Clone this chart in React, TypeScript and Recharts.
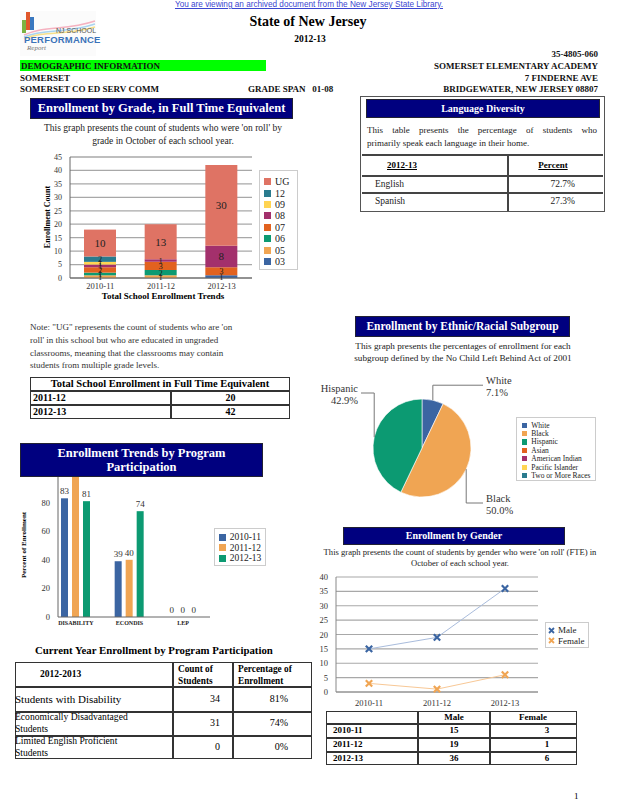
import React from 'react';
import {
  BarChart, Bar, XAxis, YAxis, CartesianGrid, LabelList, Legend,
  PieChart, Pie, Cell, LineChart, Line,
} from 'recharts';

const SERIF = '"Liberation Serif", "Times New Roman", serif';
const SANS = '"Liberation Sans", Arial, sans-serif';
const NAVY = '#00007f';

// ---------- Enrollment by grade ----------
const years = ['2010-11', '2011-12', '2012-13'];
const grade03 = [0, 0, 1];
const grade05 = [1, 1, 0];
const grade06 = [1, 2, 0];
const grade07 = [2, 3, 3];
const grade08 = [1, 1, 8];
const grade09 = [1, 0, 0];
const grade12 = [2, 0, 0];
const gradeUG = [10, 13, 30];
const gradeTicks = [0, 5, 10, 15, 20, 25, 30, 35, 40, 45];

// ---------- Program participation ----------
const programs = ['DISABILITY', 'ECONDIS', 'LEP'];
const prog2010 = [83, 39, 0];
const prog2011 = [100, 40, 0];
const prog2012 = [81, 74, 0];
const progTicks = [0, 20, 40, 60, 80, 100];

// ---------- Ethnic ----------
const ethnicNames = ['White', 'Black', 'Hispanic', 'Asian', 'American Indian', 'Pacific Islander', 'Two or More Races'];
const ethnicValues = [7.1, 50.0, 42.9, 0, 0, 0, 0];

// ---------- Gender ----------
const maleCounts = [15, 19, 36];
const femaleCounts = [3, 1, 6];
const genderTicks = [0, 5, 10, 15, 20, 25, 30, 35, 40];

// ---------- Tables ----------
const languages = ['English', 'Spanish'];
const languagePct = ['72.7%', '27.3%'];
const totalYears = ['2011-12', '2012-13'];
const totalCounts = [20, 42];
const programLong = [['Students with Disability'], ['Economically Disadvantaged', 'Students'], ['Limited English Proficient', 'Students']];
const programCounts = [34, 31, 0];
const programPct = ['81%', '74%', '0%'];

const C = {
  c03: '#3b65a2', c05: '#f0a553', c06: '#0c9a72', c07: '#e2621f',
  c08: '#a3306c', c09: '#ffd452', c12: '#2a7b8e', cUG: '#df7364',
};

const gradeSeries = [
  { key: 'g03', name: '03', color: C.c03, vals: grade03 },
  { key: 'g05', name: '05', color: C.c05, vals: grade05 },
  { key: 'g06', name: '06', color: C.c06, vals: grade06 },
  { key: 'g07', name: '07', color: C.c07, vals: grade07 },
  { key: 'g08', name: '08', color: C.c08, vals: grade08 },
  { key: 'g09', name: '09', color: C.c09, vals: grade09 },
  { key: 'g12', name: '12', color: C.c12, vals: grade12 },
  { key: 'gUG', name: 'UG', color: C.cUG, vals: gradeUG },
];
const gradeData = years.map((y, i) => {
  const r: any = { year: y };
  gradeSeries.forEach((s) => { r[s.key] = s.vals[i]; });
  return r;
});

const progColors = ['#3b65a2', '#f0a553', '#0c9a72'];
const progYears = ['2010-11', '2011-12', '2012-13'];
const progData = programs.map((p, i) => ({ prog: p, a: prog2010[i], b: prog2011[i], c: prog2012[i] }));

const ethnicColors = ['#3b65a2', '#f0a553', '#0c9a72', '#e2621f', '#a3306c', '#ffd452', '#2a7b8e'];
const ethnicData = ethnicNames.map((n, i) => ({ name: n, value: ethnicValues[i] }));

const genderData = years.map((y, i) => ({ year: y, male: maleCounts[i], female: femaleCounts[i] }));

const A = ({ x, y, w, h, style, children }: any) => (
  <div style={{ position: 'absolute', left: x, top: y, width: w, height: h, ...style }}>{children}</div>
);

const VText = ({ cx, cy, children, style }: any) => (
  <div style={{ position: 'absolute', left: cx, top: cy, transform: 'translate(-50%,-50%) rotate(-90deg)', whiteSpace: 'nowrap', fontFamily: SERIF, fontWeight: 'bold', ...style }}>{children}</div>
);

const Banner = ({ x, y, w, h, size, children }: any) => (
  <A x={x} y={y} w={w} h={h} style={{ background: NAVY, color: '#fff', fontFamily: SERIF, fontWeight: 'bold', fontSize: size, display: 'flex', alignItems: 'center', justifyContent: 'center', textAlign: 'center', lineHeight: 1.15, zIndex: 5, boxSizing: 'border-box', border: '1px solid #223' }}>
    {children}
  </A>
);

const stackLabel = (props: any) => {
  const { x, y, width, height, value } = props;
  if (!value) return null;
  const big = height >= 14;
  return (
    <text x={x + width / 2} y={y + height / 2} textAnchor="middle" dominantBaseline="central" fontFamily={SERIF} fontSize={big ? 11 : 8.5} fill="#222">{value}</text>
  );
};

const topLabel = (props: any) => {
  const { x, y, width, value } = props;
  if (value == null) return null;
  return (
    <text x={x + width / 2} y={y - 4} textAnchor="middle" fontFamily={SERIF} fontSize={9} fill="#333">{value}</text>
  );
};

const BoxLegend = ({ items, size, gap, marker, style }: any) => (
  <div style={{ border: '1px solid #ccc', background: '#fff', boxSizing: 'border-box', padding: '3px 4px', fontFamily: SERIF, fontSize: size, color: '#222', ...style }}>
    {items.map((it: any) => (
      <div key={it.name} style={{ display: 'flex', alignItems: 'center', height: gap, whiteSpace: 'nowrap' }}>
        {marker === 'x' ? (
          <svg width={7} height={7} style={{ marginRight: 3, flexShrink: 0 }}><path d="M1,1L6,6M1,6L6,1" stroke={it.color} strokeWidth={1.8} /></svg>
        ) : (
          <span style={{ display: 'inline-block', flexShrink: 0, width: size * 0.7, height: size * 0.7, background: it.color, marginRight: 4 }} />
        )}
        {it.name}
      </div>
    ))}
  </div>
);

const pieLabel = (props: any) => {
  const { cx, cy, midAngle, outerRadius, name, value } = props;
  if (!value) return null;
  const rad = Math.PI / 180;
  const s = Math.sin(midAngle * rad);
  const c = Math.cos(midAngle * rad);
  const ex = cx + outerRadius * c;
  const ey = cy - outerRadius * s;
  const ely = s > 0 ? Math.min(cy - outerRadius - 6, ey - 15) : Math.max(cy + outerRadius + 6, ey + 15);
  const right = c >= 0;
  const hx = right ? cx + outerRadius + 12 : cx - outerRadius - 12;
  const tx = right ? hx + 3 : hx - 3;
  return (
    <g key={name}>
      <polyline points={`${ex},${ey} ${ex},${ely} ${hx},${ely}`} fill="none" stroke="#777" strokeWidth={1} />
      <text x={tx} y={ely - 5} textAnchor={right ? 'start' : 'end'} dominantBaseline="central" fontFamily={SERIF} fontSize={10.5} fill="#333">{name}</text>
      <text x={tx} y={ely + 7} textAnchor={right ? 'start' : 'end'} dominantBaseline="central" fontFamily={SERIF} fontSize={10.5} fill="#333">{value.toFixed(1)}%</text>
    </g>
  );
};

const xDot = (color: string) => (props: any) => {
  const { cx, cy, index } = props;
  if (cx == null || cy == null) return <g key={`n${index}`} />;
  const d = 3.2;
  return (
    <path key={`${color}${index}`} d={`M${cx - d},${cy - d}L${cx + d},${cy + d}M${cx - d},${cy + d}L${cx + d},${cy - d}`} stroke={color} strokeWidth={2.2} />
  );
};

const tickStyle = { fontFamily: SERIF, fontSize: 8.5, fill: '#333' };

export default function App() {
  const hb = { fontFamily: SERIF, fontWeight: 'bold', fontSize: 9, color: '#111', whiteSpace: 'nowrap', lineHeight: '10px' } as any;
  return (
    <div style={{ position: 'absolute', left: 0, top: 0, width: 618, height: 800, background: '#fff', overflow: 'hidden', fontFamily: SERIF }}>
      {/* top link */}
      <A x={0} y={0} w={618} style={{ textAlign: 'center', fontFamily: SANS, fontSize: 8.2, lineHeight: '9px', color: '#3b46d0', textDecoration: 'underline' }}>
        You are viewing an archived document from the New Jersey State Library.
      </A>
      {/* logo */}
      <A x={20} y={11} w={76} h={45} style={{ background: '#fbfbfb' }}>
        <A x={2} y={9} w={4} h={13} style={{ background: '#7cb342' }} />
        <A x={6} y={1} w={4} h={18} style={{ background: '#e0572b' }} />
        <A x={10} y={6} w={4} h={13} style={{ background: '#3a78c0' }} />
        <svg style={{ position: 'absolute', left: 0, top: 0 }} width={76} height={30}>
          <path d="M4,24 C25,14 45,20 75,10" stroke="#f5b2c0" strokeWidth={1.5} fill="none" />
          <path d="M4,26 C25,17 45,23 75,13" stroke="#a9d4f0" strokeWidth={1.5} fill="none" />
          <path d="M4,28 C25,19 45,25 75,16" stroke="#f7e08a" strokeWidth={1.5} fill="none" />
        </svg>
        <A x={36} y={16} style={{ fontFamily: SANS, fontSize: 7, color: '#555', whiteSpace: 'nowrap' }}>NJ SCHOOL</A>
        <A x={4} y={23} style={{ fontFamily: SANS, fontSize: 9.5, fontWeight: 'bold', color: '#3b73b9', whiteSpace: 'nowrap', letterSpacing: 0.2 }}>PERFORMANCE</A>
        <A x={7} y={33} style={{ fontFamily: SERIF, fontStyle: 'italic', fontSize: 7, color: '#777', whiteSpace: 'nowrap' }}>Report</A>
      </A>
      <A x={0} y={14} w={616} style={{ textAlign: 'center', fontFamily: SERIF, fontWeight: 'bold', fontSize: 14 }}>State of New Jersey</A>
      <A x={0} y={34} w={620} style={{ textAlign: 'center', fontFamily: SERIF, fontWeight: 'bold', fontSize: 9.5 }}>2012-13</A>
      <A x={400} y={49} w={198} style={{ ...hb, textAlign: 'right' }}>35-4805-060</A>
      <A x={20} y={60} w={246} h={11} style={{ background: '#00ff00' }} />
      <A x={21} y={61} style={hb}>DEMOGRAPHIC INFORMATION</A>
      <A x={360} y={61} w={238} style={{ ...hb, textAlign: 'right' }}>SOMERSET ELEMENTARY ACADEMY</A>
      <A x={20} y={73} style={hb}>SOMERSET</A>
      <A x={360} y={73} w={238} style={{ ...hb, textAlign: 'right' }}>7 FINDERNE AVE</A>
      <A x={20} y={84} style={hb}>SOMERSET CO ED SERV COMM</A>
      <A x={248} y={84} style={hb}>GRADE SPAN&nbsp;&nbsp;&nbsp;01-08</A>
      <A x={360} y={84} w={238} style={{ ...hb, textAlign: 'right' }}>BRIDGEWATER, NEW JERSEY 08807</A>

      {/* Enrollment by grade */}
      <Banner x={30} y={98} w={263} h={21} size={12.5}>Enrollment by Grade, in Full Time Equivalent</Banner>
      <A x={30} y={122} w={266} style={{ textAlign: 'center', fontSize: 9.5, lineHeight: '12.5px', color: '#222' }}>
        This graph presents the count of students who were 'on roll' by<br />grade in October of each school year.
      </A>
      <A x={20} y={145} w={290} h={160}>
        <BarChart width={290} height={160} data={gradeData} margin={{ top: 12, right: 58, bottom: 13, left: 20 }} barSize={32}>
          <CartesianGrid vertical={false} stroke="#a8a8a8" strokeWidth={1.3} />
          <XAxis dataKey="year" height={14} tick={{ ...tickStyle, dy: -3 }} tickLine={false} axisLine={{ stroke: '#666' }} interval={0} />
          <YAxis width={30} domain={[0, 45]} ticks={gradeTicks} tick={{ ...tickStyle, fontSize: 8 }} tickLine={false} axisLine={{ stroke: '#666' }} interval={0} />
          <YAxis yAxisId="r" orientation="right" width={0} tick={false} tickLine={false} axisLine={{ stroke: '#a8a8a8' }} />
          {gradeSeries.map((s) => (
            <Bar key={s.key} dataKey={s.key} name={s.name} stackId="g" fill={s.color} isAnimationActive={false}>
              <LabelList dataKey={s.key} content={stackLabel} />
            </Bar>
          ))}
          <Legend layout="vertical" align="center" verticalAlign="middle"
            wrapperStyle={{ left: 239, top: 25, width: 39 }}
            content={() => <BoxLegend items={[...gradeSeries].reverse().map((s) => ({ name: s.name, color: s.color }))} size={10} gap={11.4} style={{ width: 39, height: 100, padding: '5px 4px' }} />} />
        </BarChart>
      </A>
      <VText cx={47} cy={217} style={{ fontSize: 8 }}>Enrollment Count</VText>
      <A x={30} y={291} w={266} style={{ textAlign: 'center', fontWeight: 'bold', fontSize: 9 }}>Total School Enrollment Trends</A>

      {/* Language diversity */}
      <A x={360} y={96} w={245} h={116} style={{ border: '1.5px solid #555', boxSizing: 'border-box' }} />
      <Banner x={366} y={99} w={234} h={19} size={10}>Language Diversity</Banner>
      <A x={367} y={124} w={230} style={{ fontSize: 9, lineHeight: '13px', textAlign: 'justify', textAlignLast: 'justify', color: '#222', whiteSpace: 'nowrap' }}>
        This table presents the percentage of students who
      </A>
      <A x={367} y={137} w={230} style={{ fontSize: 9, lineHeight: '13px', color: '#222', whiteSpace: 'nowrap' }}>
        primarily speak each language in their home.
      </A>
      <A x={362} y={154} w={241} h={2} style={{ background: '#444' }} />
      <A x={362} y={175} w={241} h={2} style={{ background: '#444' }} />
      <A x={362} y={192} w={241} h={2} style={{ background: '#444' }} />
      <A x={507} y={154} w={2} h={57} style={{ background: '#444' }} />
      <A x={372} y={160} w={60} style={{ textAlign: 'center', fontWeight: 'bold', fontSize: 9, textDecoration: 'underline' }}>2012-13</A>
      <A x={520} y={160} w={66} style={{ textAlign: 'center', fontWeight: 'bold', fontSize: 9, textDecoration: 'underline' }}>Percent</A>
      {languages.map((l, i) => (
        <React.Fragment key={l}>
          <A x={375} y={179 + i * 17} style={{ fontSize: 9.5, color: '#222' }}>{l}</A>
          <A x={520} y={179 + i * 17} w={55} style={{ fontSize: 9.5, color: '#222', textAlign: 'right' }}>{languagePct[i]}</A>
        </React.Fragment>
      ))}

      {/* Note */}
      <A x={30} y={321} w={260} style={{ fontSize: 9, lineHeight: '12.8px', color: '#333', whiteSpace: 'nowrap' }}>
        Note: "UG" represents the count of students who are 'on<br />roll' in this school but who are educated in ungraded<br />classrooms, meaning that the classrooms may contain<br />students from multiple grade levels.
      </A>
      {/* Total table */}
      <A x={30} y={377} w={260} h={42} style={{ border: '1.5px solid #333', boxSizing: 'border-box' }} />
      <A x={30} y={390} w={260} h={1.5} style={{ background: '#333' }} />
      <A x={30} y={404} w={260} h={1.5} style={{ background: '#333' }} />
      <A x={170} y={390} w={1.5} h={29} style={{ background: '#333' }} />
      <A x={30} y={378} w={260} style={{ textAlign: 'center', fontWeight: 'bold', fontSize: 10.5, lineHeight: '12px' }}>Total School Enrollment in Full Time Equivalent</A>
      {totalYears.map((y, i) => (
        <React.Fragment key={y}>
          <A x={33} y={392 + i * 13.5} style={{ fontWeight: 'bold', fontSize: 10, lineHeight: '12px' }}>{y}</A>
          <A x={171} y={392 + i * 13.5} w={119} style={{ fontWeight: 'bold', fontSize: 10, lineHeight: '12px', textAlign: 'center' }}>{totalCounts[i]}</A>
        </React.Fragment>
      ))}

      {/* Ethnic */}
      <Banner x={355} y={316} w={215} h={21} size={11.5}>Enrollment by Ethnic/Racial Subgroup</Banner>
      <A x={340} y={340} w={246} style={{ textAlign: 'center', fontSize: 9.2, lineHeight: '12px', color: '#222', whiteSpace: 'nowrap' }}>
        This graph presents the percentages of enrollment for each<br />subgroup defined by the No Child Left Behind Act of 2001
      </A>
      <A x={320} y={365} w={290} h={150}>
        <PieChart width={290} height={150} margin={{ top: 0, right: 0, bottom: 0, left: 0 }}>
          <Pie data={ethnicData} dataKey="value" nameKey="name" cx={102} cy={83} outerRadius={49} startAngle={90} endAngle={-270}
            stroke="#fff" strokeWidth={0.6} label={pieLabel} labelLine={false} isAnimationActive={false}>
            {ethnicData.map((d, i) => <Cell key={d.name} fill={ethnicColors[i]} />)}
          </Pie>
          <Legend layout="vertical" align="center" verticalAlign="middle"
            wrapperStyle={{ left: 196, top: 52, width: 80 }}
            content={() => <BoxLegend items={ethnicNames.map((n, i) => ({ name: n, color: ethnicColors[i] }))} size={7.5} gap={8.4} style={{ width: 80, height: 64, padding: '3px 5px' }} />} />
        </PieChart>
      </A>

      {/* Program participation */}
      <A x={20} y={460} w={250} h={175}>
        <BarChart width={250} height={175} data={progData} margin={{ top: 14, right: 60, bottom: 6, left: 8 }} barSize={7} barGap={4}>
          <XAxis dataKey="prog" height={12} padding={{ left: -9, right: 0 }} tick={{ fontFamily: SERIF, fontSize: 6, fontWeight: 'bold', fill: '#222', dy: -4 }} tickLine={false} axisLine={{ stroke: '#666' }} interval={0} />
          <YAxis width={30} domain={[0, 100]} ticks={progTicks} tick={tickStyle} tickLine={false} axisLine={{ stroke: '#666' }} interval={0} allowDataOverflow />
          <YAxis yAxisId="r" orientation="right" width={0} tick={false} tickLine={false} axisLine={{ stroke: '#999' }} />
          {['a', 'b', 'c'].map((k, i) => (
            <Bar key={k} dataKey={k} name={progYears[i]} fill={progColors[i]} isAnimationActive={false}
              minPointSize={(v: any) => (v === 0 ? 0.01 : 0)}>
              <LabelList dataKey={k} content={topLabel} />
            </Bar>
          ))}
          <Legend layout="vertical" align="center" verticalAlign="middle"
            wrapperStyle={{ left: 194, top: 68, width: 52 }}
            content={() => <BoxLegend items={progYears.map((n, i) => ({ name: n, color: progColors[i] }))} size={9.5} gap={10.5} style={{ width: 52, height: 38, padding: '3px 4px' }} />} />
        </BarChart>
      </A>
      <Banner x={20} y={443} w={243} h={34} size={12.5}>Enrollment Trends by Program<br />Participation</Banner>
      <VText cx={24} cy={545} style={{ fontSize: 7 }}>Percent of Enrollment</VText>

      {/* Current year table */}
      <A x={35} y={644} style={{ fontWeight: 'bold', fontSize: 10.8, whiteSpace: 'nowrap' }}>Current Year Enrollment by Program Participation</A>
      <A x={15} y={662} w={297} h={97} style={{ border: '1.5px solid #333', boxSizing: 'border-box' }} />
      {[686, 711, 735].map((yy) => <A key={yy} x={15} y={yy} w={297} h={1.5} style={{ background: '#333' }} />)}
      <A x={172} y={662} w={1.5} h={97} style={{ background: '#333' }} />
      <A x={232} y={662} w={1.5} h={97} style={{ background: '#333' }} />
      <A x={40} y={669} style={{ fontWeight: 'bold', fontSize: 9.5 }}>2012-2013</A>
      <A x={178} y={663} style={{ fontWeight: 'bold', fontSize: 9.3, lineHeight: '12px' }}>Count of<br />Students</A>
      <A x={238} y={663} style={{ fontWeight: 'bold', fontSize: 9.3, lineHeight: '12px' }}>Percentage of<br />Enrollment</A>
      {programLong.map((lines, i) => {
        const top = [687, 711, 735][i];
        return (
          <React.Fragment key={i}>
            {lines.length === 1 ? (
              <A x={15} y={top + 6} style={{ fontSize: 11, whiteSpace: 'nowrap' }}>{lines[0]}</A>
            ) : (
              <A x={15} y={top} style={{ fontSize: 9.6, lineHeight: '12px', whiteSpace: 'nowrap' }}>{lines[0]}<br />{lines[1]}</A>
            )}
            <A x={173} y={top + 6} w={47} style={{ fontSize: 10, textAlign: 'right' }}>{programCounts[i]}</A>
            <A x={233} y={top + 6} w={55} style={{ fontSize: 10, textAlign: 'right' }}>{programPct[i]}</A>
          </React.Fragment>
        );
      })}

      {/* Gender */}
      <Banner x={343} y={527} w={222} h={18} size={10}>Enrollment by Gender</Banner>
      <A x={310} y={547} w={300} style={{ textAlign: 'center', fontSize: 8.6, lineHeight: '11px', color: '#222', whiteSpace: 'nowrap' }}>
        This graph presents the count of students by gender who were 'on roll' (FTE) in<br />October of each school year.
      </A>
      <A x={310} y={570} w={290} h={140}>
        <LineChart width={290} height={140} data={genderData} margin={{ top: 7, right: 62, bottom: 4, left: 4 }}>
          <CartesianGrid vertical={false} stroke="#a8a8a8" strokeWidth={1.2} />
          <XAxis dataKey="year" height={14} padding={{ left: 33, right: 33 }} tick={tickStyle} tickLine={false} axisLine={{ stroke: '#888' }} interval={0} />
          <YAxis width={22} domain={[0, 40]} ticks={genderTicks} tick={tickStyle} tickLine={false} axisLine={{ stroke: '#888' }} interval={0} />
          <YAxis yAxisId="r" orientation="right" width={0} tick={false} tickLine={false} axisLine={{ stroke: '#a8a8a8' }} />
          <Line dataKey="male" name="Male" stroke="#a9bcdc" strokeWidth={1} dot={xDot('#3b65a2')} isAnimationActive={false} />
          <Line dataKey="female" name="Female" stroke="#f8c896" strokeWidth={1} dot={xDot('#f0a553')} isAnimationActive={false} />
          <Legend layout="vertical" align="center" verticalAlign="middle"
            wrapperStyle={{ left: 235, top: 52, width: 44 }}
            content={() => <BoxLegend marker="x" items={[{ name: 'Male', color: '#3b65a2' }, { name: 'Female', color: '#f0a553' }]} size={9} gap={10.5} style={{ width: 44, height: 26, padding: '2px 2px' }} />} />
        </LineChart>
      </A>
      {/* Gender table */}
      <A x={326} y={711} w={251} h={54} style={{ border: '1.5px solid #333', boxSizing: 'border-box' }} />
      {[723, 737, 751].map((yy) => <A key={yy} x={326} y={yy} w={251} h={1.5} style={{ background: '#333' }} />)}
      <A x={417} y={711} w={1.5} h={54} style={{ background: '#333' }} />
      <A x={489} y={711} w={1.5} h={54} style={{ background: '#333' }} />
      <A x={418} y={712} w={72} style={{ textAlign: 'center', fontWeight: 'bold', fontSize: 9, lineHeight: '11px' }}>Male</A>
      <A x={490} y={712} w={86} style={{ textAlign: 'center', fontWeight: 'bold', fontSize: 9, lineHeight: '11px' }}>Female</A>
      {years.map((y, i) => (
        <React.Fragment key={y}>
          <A x={333} y={725 + i * 14} style={{ fontWeight: 'bold', fontSize: 9, lineHeight: '11px' }}>{y}</A>
          <A x={418} y={725 + i * 14} w={72} style={{ textAlign: 'center', fontWeight: 'bold', fontSize: 9, lineHeight: '11px' }}>{maleCounts[i]}</A>
          <A x={490} y={725 + i * 14} w={114} style={{ textAlign: 'center', fontWeight: 'bold', fontSize: 9, lineHeight: '11px' }}>{femaleCounts[i]}</A>
        </React.Fragment>
      ))}
      <A x={574} y={791} style={{ fontSize: 9 }}>1</A>
    </div>
  );
}
